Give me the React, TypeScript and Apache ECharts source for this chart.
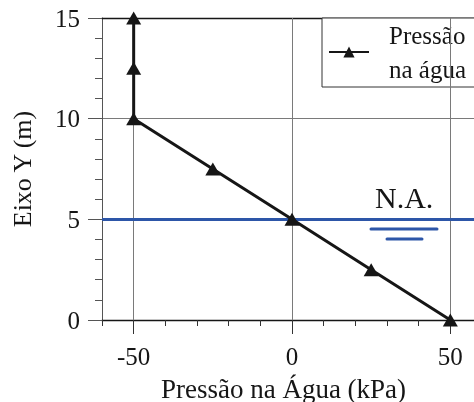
import React, { useEffect, useRef } from "react";
import * as echarts from "echarts";

// Water pressure profile along the vertical axis
const pressure = [-50, -50, -50, -25, 0, 25, 50]; // kPa
const heightY = [15, 12.5, 10, 7.5, 5, 2.5, 0]; // m
const xMajorTicks = [-50, 0, 50];
const waterLevel = 5; // m (N.A.)
const seriesName = "Pressão na água";

const FONT = "Liberation Serif";
const INK = "#161616";
const GRID_GRAY = "#7a7a7a";
const BLUE = "#2d56a8";

export default function App() {
  const ref = useRef<HTMLDivElement>(null);

  useEffect(() => {
    if (!ref.current) return;
    const chart = echarts.init(ref.current, null, { renderer: "svg" });

    const points = pressure.map((p, i) => [p, heightY[i]]);

    chart.setOption({
      animation: false,
      grid: {
        left: 102,
        top: 18,
        bottom: 82,
        right: -8,
        containLabel: false,
        outerBoundsMode: "none",
      },
      legend: {
        left: 322,
        top: 18,
        orient: "vertical",
        selectedMode: false,
        padding: [0, 30, 1, 6],
        itemWidth: 40,
        itemHeight: 14,
        backgroundColor: "#fff",
        borderColor: "#333",
        borderWidth: 1,
        borderRadius: 0,
        data: [seriesName],
        formatter: () => "Pressão\nna água",
        textStyle: {
          fontFamily: FONT,
          fontSize: 25,
          color: INK,
          lineHeight: 34,
          padding: [0, 0, 0, 15],
        },
      },
      xAxis: [
        {
          // minor ticks every 10 kPa
          type: "value",
          min: -60,
          max: 60,
          interval: 10,
          position: "bottom",
          axisLine: { show: true, onZero: false, lineStyle: { color: INK, width: 1.3 } },
          axisTick: { show: true, length: 6, lineStyle: { color: "#333", width: 1 } },
          axisLabel: { show: false },
          splitLine: { show: false },
        },
        {
          // major ticks and labels
          type: "value",
          min: -60,
          max: 60,
          position: "bottom",
          axisLine: { show: false, onZero: false },
          axisTick: {
            show: true,
            customValues: xMajorTicks,
            length: 14,
            lineStyle: { color: "#333", width: 1 },
          },
          axisLabel: {
            show: true,
            customValues: xMajorTicks,
            fontFamily: FONT,
            fontSize: 25,
            color: INK,
            margin: 24,
          },
          splitLine: { show: false },
          name: "Pressão na Água (kPa)",
          nameLocation: "middle",
          nameGap: 55,
          nameTextStyle: {
            fontFamily: FONT,
            fontSize: 27,
            color: INK,
            padding: [0, 17, 0, 0],
          },
        },
        {
          // top frame line
          type: "value",
          min: -60,
          max: 60,
          position: "top",
          axisLine: { show: true, onZero: false, lineStyle: { color: INK, width: 1.3 } },
          axisTick: { show: false },
          axisLabel: { show: false },
          splitLine: { show: false },
        },
      ],
      yAxis: {
        type: "value",
        min: 0,
        max: 15,
        interval: 5,
        axisLine: { show: true, onZero: false, lineStyle: { color: "#555", width: 1 } },
        axisTick: { show: true, length: 14, lineStyle: { color: "#555", width: 1 } },
        minorTick: { show: true, splitNumber: 5, length: 7, lineStyle: { color: "#555", width: 1 } },
        axisLabel: { fontFamily: FONT, fontSize: 25, color: INK, margin: 22 },
        splitLine: { show: true, lineStyle: { color: GRID_GRAY, width: 1 } },
        name: "Eixo Y (m)",
        nameLocation: "middle",
        nameGap: 67,
        nameTextStyle: { fontFamily: FONT, fontSize: 26, color: INK },
      },
      series: [
        {
          // vertical grid lines at major ticks
          type: "line",
          data: [],
          z: 1,
          silent: true,
          markLine: {
            silent: true,
            symbol: "none",
            label: { show: false },
            lineStyle: { color: GRID_GRAY, width: 1, type: "solid" },
            data: xMajorTicks.map((v) => ({ xAxis: v })),
          },
        },
        {
          // water level (N.A.)
          type: "line",
          data: [],
          z: 2,
          silent: true,
          markLine: {
            silent: true,
            symbol: "none",
            label: { show: false },
            lineStyle: { color: BLUE, width: 3, type: "solid" },
            data: [{ yAxis: waterLevel }],
          },
        },
        {
          name: seriesName,
          type: "line",
          data: points,
          z: 5,
          clip: false,
          symbol: "triangle",
          symbolSize: [15, 13],
          showAllSymbol: true,
          lineStyle: { color: INK, width: 3 },
          itemStyle: { color: INK },
        },
      ],
      graphic: [
        {
          type: "text",
          left: 375,
          top: 182,
          style: { text: "N.A.", fontFamily: FONT, fontSize: 30, fill: INK },
        },
        {
          type: "line",
          silent: true,
          shape: { x1: 371, y1: 229, x2: 437, y2: 229 },
          style: { stroke: BLUE, lineWidth: 3, lineCap: "round" },
        },
        {
          type: "line",
          silent: true,
          shape: { x1: 387, y1: 239, x2: 422, y2: 239 },
          style: { stroke: BLUE, lineWidth: 3, lineCap: "round" },
        },
      ],
    });

    return () => chart.dispose();
  }, []);

  return (
    <div
      ref={ref}
      style={{ position: "fixed", left: 0, top: 0, width: 474, height: 402 }}
    />
  );
}
